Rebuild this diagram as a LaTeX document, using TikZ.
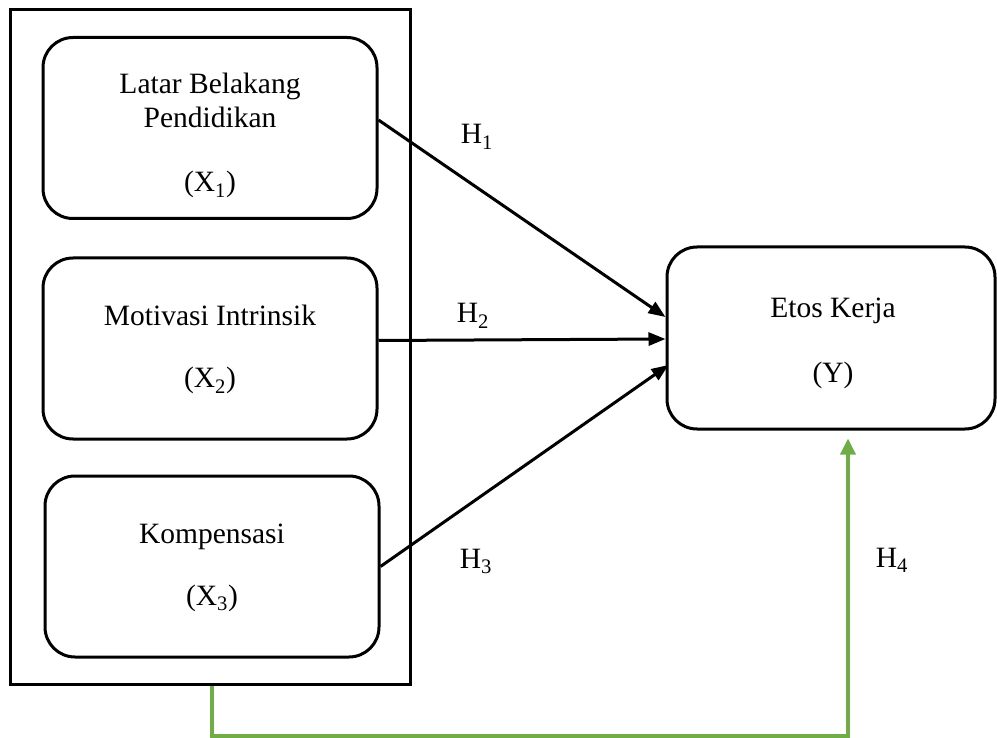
\documentclass[tikz,border=0pt]{standalone}
\usepackage{fontspec}
\setmainfont{Liberation Serif}
\usetikzlibrary{arrows.meta}
\definecolor{officegreen}{RGB}{112,173,71}
\begin{document}
\begin{tikzpicture}[x=1pt,y=-1pt,
  every node/.style={font=\fontsize{29.5}{33}\selectfont, inner sep=0pt},
  varbox/.style={draw, line width=3pt, rounded corners=30pt, minimum width=334pt, minimum height=181pt},
  frame/.style={draw, line width=3pt, minimum width=400pt, minimum height=674pt},
  lbl/.style={anchor=base},
  hyp/.style={line width=3pt, -{Triangle[length=17pt,width=13pt]}},
  hypgreen/.style={line width=3.5pt, draw=officegreen, -{Triangle[length=16pt,width=15pt]}}
]
\useasboundingbox (0,0) rectangle (997,738);

\node[frame] (outer) at (210,347) {};
\node[varbox] (b1) at (210,128) {};
\node[varbox] (b2) at (210,348.5) {};
\node[varbox] (b3) at (212,566.5) {};
\node[varbox, minimum width=328pt, minimum height=182pt] (y) at (831,338) {};

\node[lbl] (t1a) at (210,94) {Latar Belakang};
\node[lbl] (t1b) at (210,128) {Pendidikan};
\node[lbl] (t1c) at (210,192) {(X\textsubscript{1})};
\node[lbl] (t2a) at (210,326) {Motivasi Intrinsik};
\node[lbl] (t2b) at (210,388) {(X\textsubscript{2})};
\node[lbl] (t3a) at (212,543) {Kompensasi};
\node[lbl] (t3b) at (212,605) {(X\textsubscript{3})};
\node[lbl] (tya) at (833,318) {Etos Kerja};
\node[lbl] (tyb) at (833,382) {(Y)};

\node[lbl] (h1) at (477,144) {H\textsubscript{1}};
\node[lbl] (h2) at (473,323) {H\textsubscript{2}};
\node[lbl] (h3) at (476,568) {H\textsubscript{3}};
\node[lbl] (h4) at (892,567) {H\textsubscript{4}};

\draw[hyp] ([yshift=8pt]b1.east) -- ([yshift=21pt]y.west);
\draw[hyp] ([yshift=8pt]b2.east) -- ([yshift=-1pt]y.west);
\draw[hyp] ([yshift=0pt]b3.east) -- ([xshift=3pt,yshift=-27pt]y.west);

\coordinate (gcorner) at (848,736);
\draw[hypgreen] ([xshift=2pt]outer.south) |- (gcorner) -- ([xshift=17pt,yshift=-8pt]y.south);
\end{tikzpicture}
\end{document}
